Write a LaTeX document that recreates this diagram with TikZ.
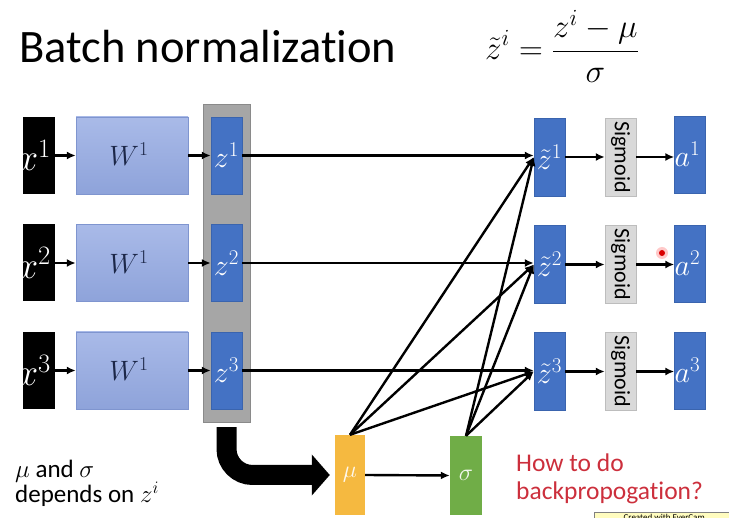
\RequirePackage{fix-cm}
\documentclass[tikz,border=0pt]{standalone}
\usepackage{fontspec}
\setmainfont{Carlito}[Ligatures=NoCommon]
\usetikzlibrary{arrows.meta}
\definecolor{zblue}{HTML}{4472C4}
\definecolor{zbord}{HTML}{3A64AE}
\definecolor{wtop}{HTML}{A9BAE8}
\definecolor{wbot}{HTML}{8EA3DA}
\definecolor{wbord}{HTML}{7F95CF}
\definecolor{navy}{HTML}{1C2748}
\definecolor{grayfill}{HTML}{A6A6A6}
\definecolor{graybord}{HTML}{8A8A8A}
\definecolor{sigfill}{HTML}{D9D9D9}
\definecolor{sigbord}{HTML}{BDBDBD}
\definecolor{mufill}{HTML}{F5B940}
\definecolor{sgfill}{HTML}{70AD47}
\definecolor{redtxt}{HTML}{CC2F3C}
\begin{document}
\begin{tikzpicture}[x=1pt,y=-1pt,
  rect/.style 2 args={inner sep=0pt, minimum width=#1, minimum height=#2},
  xbox/.style={rect={32pt}{77pt}, fill=black, text=white, font=\fontsize{38}{38}\selectfont},
  wbox/.style={rect={112pt}{77pt}, draw=wbord, top color=wtop, bottom color=wbot, text=navy, font=\fontsize{28}{28}\selectfont},
  zbox/.style={rect={31pt}{77pt}, fill=zblue, draw=zbord, text=white, font=\fontsize{30}{30}\selectfont},
  sigbox/.style={rect={31pt}{78pt}, fill=sigfill, draw=sigbord, font=\fontsize{22}{22}\selectfont},
  arr/.style={line width=2.4pt, -{Latex[length=9pt,width=8pt]}},
  big/.style={line width=20pt, -{Triangle[length=18pt,width=40pt]}},
  txt/.style={inner sep=0pt, anchor=base west}]
\useasboundingbox (0,0) rectangle (729,518);
% title and formula
\node[txt, font=\fontsize{46.5}{46.5}\selectfont] (title) at (19,63) {Batch normalization};
\node[inner sep=0pt, font=\fontsize{33}{33}\selectfont] (formula) at (562,46) {$\displaystyle\tilde{z}^i=\frac{z^i-\mu}{\sigma}$};
% gray batch box
\node[rect={47pt}{318pt}, fill=grayfill, draw=graybord] (gray) at (226.5,263) {};
% rows
\foreach \i/\y in {1/155.5,2/263,3/370.5}{
  \node[xbox] (x\i) at (38.5,\y) {\hspace*{-9pt}$x^{\i}$};
  \node[wbox] (w\i) at (132,\y) {\raisebox{2pt}{$W^{1}$}\hspace*{6pt}};
  \node[zbox] (z\i) at (226.5,\y) {$z^{\i}$};
  \draw[arr] (x\i) -- (w\i);
  \draw[arr] (w\i) -- (z\i);
}
\foreach \i/\y in {1/157,2/264.5,3/371.5}{
  \node[zbox, minimum height=78pt] (zt\i) at (549.5,\y) {$\tilde{z}^{\i}$};
  \node[sigbox] (sig\i) at (620.5,\y) {\rotatebox{-90}{Sigmoid}};
}
\foreach \i/\y in {1/154.5,2/263.5,3/370.5}{
  \node[zbox] (a\i) at (690,\y) {\hspace*{-5pt}$a^{\i}$};
}
\foreach \i in {1,2,3}{
  \draw[arr] (z\i.east) -- (z\i.east -| zt\i.west);
  \draw[arr] (zt\i.east) -- (zt\i.east -| sig\i.west);
  \draw[arr] (sig\i.east) -- (sig\i.east -| a\i.west);
}
% mu and sigma
\node[rect={30pt}{80pt}, fill=mufill, text=white!90!mufill, font=\fontsize{24}{24}\selectfont] (mu) at (350,475) {$\mu$};
\node[rect={32pt}{79pt}, fill=sgfill, text=white!90!sgfill, font=\fontsize{24}{24}\selectfont] (sg) at (466,475.5) {$\sigma$};
\draw[arr] (mu.east) -- (sg.west);
\foreach \i in {1,2,3}{
  \draw[arr] (mu.north) -- (zt\i.west);
  \draw[arr] (sg.north) -- (zt\i.west);
}
\draw[big, rounded corners=26pt] ([yshift=-5pt]gray.south) |- ([xshift=-5pt]mu.west);
% texts
\node[txt, font=\fontsize{25}{25}\selectfont] (t1) at (15,478) {$\mu$ and $\sigma$};
\node[txt, font=\fontsize{25}{25}\selectfont] (t2) at (15,503) {depends on $z^i$};
\node[txt, text=redtxt, font=\fontsize{25.5}{25.5}\selectfont] (r1) at (516,472) {How to do};
\node[txt, text=redtxt, font=\fontsize{25.5}{25.5}\selectfont] (r2) at (516,500) {backpropogation?};
% pointer dot
\fill[red!30, opacity=0.7] (662,253) circle (6pt);
\fill[red!85!black] (662,253) circle (3pt);
% watermark (cut off)
\begin{scope}
\clip (0,0) rectangle (729,518);
\node[anchor=north west, fill=yellow!25, draw=gray, inner sep=2pt, font=\fontsize{9}{9}\selectfont, minimum width=140pt] (wm) at (594,512.5) {Created with EverCam};
\end{scope}
\end{tikzpicture}
\end{document}
